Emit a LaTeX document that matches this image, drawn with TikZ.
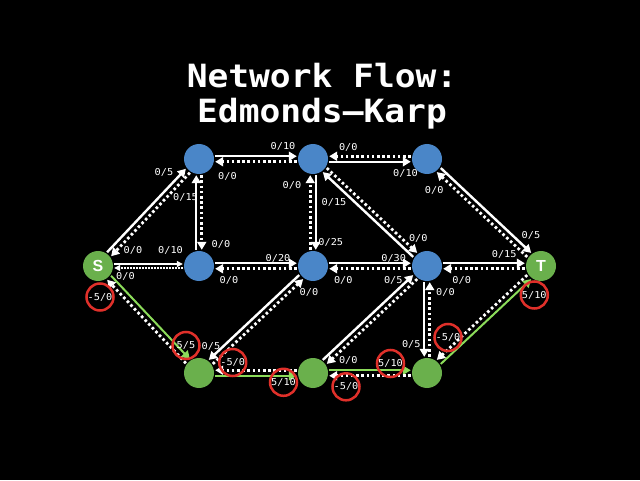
\documentclass[tikz,border=0pt]{standalone}
\usepackage{fontspec}
\usetikzlibrary{arrows.meta,positioning,calc}
\newfontfamily\flowmono{DejaVu Sans Mono}[FakeStretch=1.08]
\newfontfamily\vertexfont{Liberation Sans}
\definecolor{nodeblue}{HTML}{4A86C8}
\definecolor{pathgreen}{HTML}{6AB04C}
\definecolor{flowgreen}{HTML}{8CDC5A}
\definecolor{cutred}{HTML}{E0302A}
\tikzset{
  vertex/.style={circle, fill=nodeblue, minimum size=30pt, inner sep=0pt},
  pathvertex/.style={vertex, fill=pathgreen},
  endvertex/.style={pathvertex, text=white,
    font=\vertexfont\bfseries\fontsize{16}{16}\selectfont},
  flowarrow/.style={-{Triangle[length=8pt,width=9pt]}, line width=2.4pt,
    white, shorten >=1pt, shorten <=1pt},
  backarrow/.style={flowarrow, dash pattern=on 2.6pt off 2.6pt, line width=2.8pt},
  greenarrow/.style={flowarrow, flowgreen, line width=2pt},
  thinarrow/.style={-{Triangle[length=6pt,width=6pt]}, line width=1.2pt,
    white, shorten >=1pt, shorten <=1pt},
  flowlbl/.style={text=white, inner sep=0pt,
    font=\flowmono\fontsize{9.5}{10}\selectfont},
  cutlbl/.style={flowlbl, circle, draw=cutred, line width=2.5pt, minimum size=27pt},
  titletext/.style={text=white, inner sep=0pt,
    font=\flowmono\bfseries\fontsize{32}{35}\selectfont},
}

\begin{document}
\begin{tikzpicture}[x=1pt, y=1pt, on grid, node distance=107pt and 114pt]
  \fill[black] (0,0) rectangle (640,480);

  % title
  \node[titletext, anchor=base] (title) at (322,392) {Network Flow:};
  \node[titletext, anchor=base] (subtitle) at (322,357) {Edmonds–Karp};

  % vertices
  \node[vertex] (D) at (199,214) {};
  \node[vertex, above=of D] (A) {};
  \node[vertex, right=of A] (B) {};
  \node[vertex, right=of B] (C) {};
  \node[vertex, right=of D] (E) {};
  \node[vertex, right=of E] (F) {};
  \node[pathvertex, below=of D] (G) {};
  \node[pathvertex, right=of G] (H) {};
  \node[pathvertex, right=of H] (I) {};
  \node[endvertex, left=101pt of D] (S) {S};
  \node[endvertex, right=of F] (T) {T};

  % edges: forward (solid) and residual (dotted)
  \foreach \u/\v/\sx/\sy in {S/A/-2/2, A/B/0/2.75, D/A/-2.75/0, B/C/0/-2.75,
      B/E/2.75/0, F/B/-2/-2, C/T/2/2, D/E/0/2.75, E/F/0/2.75, E/G/-2/2,
      F/T/0/2.75, F/I/-2.75/0, H/F/-2/2} {
    \draw[flowarrow, transform canvas={shift={(\sx,\sy)}}] (\u) -- (\v);
    \draw[backarrow, transform canvas={shift={({-(\sx)},{-(\sy)})}}] (\v) -- (\u);
  }
  \draw[thinarrow, transform canvas={yshift=2pt}] (S) -- (D);
  \draw[thinarrow, dash pattern=on 1.5pt off 1.5pt, transform canvas={yshift=-2pt}] (D) -- (S);

  % augmenting path
  \foreach \u/\v/\sx/\sy in {S/G/2/2, G/H/0/-2.75, H/I/0/2.75, I/T/2/-2} {
    \draw[greenarrow, transform canvas={shift={(\sx,\sy)}}] (\u) -- (\v);
    \draw[backarrow, transform canvas={shift={({-(\sx)},{-(\sy)})}}] (\v) -- (\u);
  }

  % flow/capacity labels
  \foreach \n/\at/\dx/\dy/\t in {
      lSA/A/-35/-13/{0/5}, lAS/S/35/16/{0/0},
      lSD/D/-28.5/16/{0/10}, lDS/S/27.5/-10.5/{0/0},
      lAB/B/-30/12.3/{0/10}, lBA/A/28.5/-17.3/{0/0},
      lDA/A/-13.5/-38/{0/15}, lAD/D/22/22/{0/0},
      lBC/C/-21.5/-14.7/{0/10}, lCB/B/35.3/11.7/{0/0},
      lBE/E/17.8/24/{0/25}, lEB/B/-21/-26.3/{0/0},
      lFB/B/21/-43/{0/15}, lBF/F/-8.7/27.3/{0/0},
      lCT/T/-10/31/{0/5}, lTC/C/7.2/-31.3/{0/0},
      lDE/E/-35/7.8/{0/20}, lED/D/30/-14/{0/0},
      lEF/F/-33.3/7.8/{0/30}, lFE/E/30.3/-14.7/{0/0},
      lEG/G/12/26.5/{0/5}, lGE/E/-4/-26.7/{0/0},
      lFT/T/-36.8/11.6/{0/15}, lTF/F/34.7/-14.4/{0/0},
      lFI/I/-15.7/29/{0/5}, lIF/F/18.5/-26.8/{0/0},
      lHF/F/-33.7/-14.7/{0/5}, lFH/H/35.3/13/{0/0}}
    \node[flowlbl] (\n) at ($(\at)+(\dx,\dy)$) {\t};

  % labels on the augmenting path
  \foreach \n/\at/\dx/\dy/\t in {
      lSG/G/-13/27.5/{5/5}, lGS/S/2/-31/{-5/0},
      lGH/H/-29.5/-9.3/{5/10}, lHG/G/33.7/10.5/{-5/0},
      lHI/I/-36.5/9.5/{5/10}, lIH/H/33/-13.8/{-5/0},
      lIT/T/-6.7/-29/{5/10}, lTI/I/21/35.5/{-5/0}}
    \node[cutlbl] (\n) at ($(\at)+(\dx,\dy)$) {\t};
\end{tikzpicture}
\end{document}
